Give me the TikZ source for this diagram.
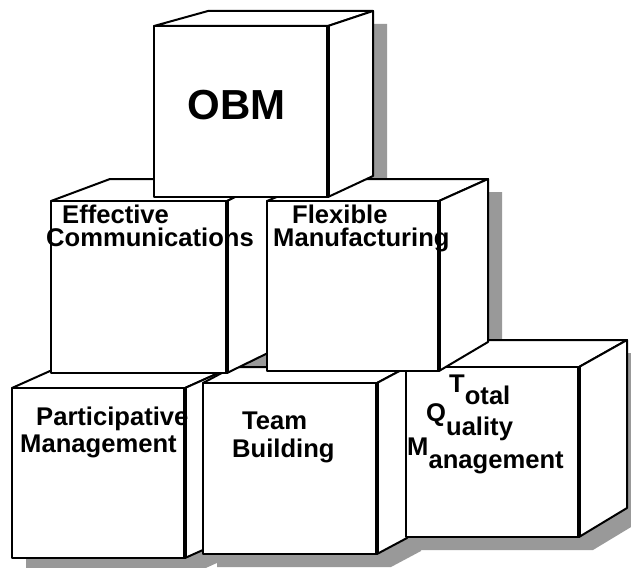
\documentclass[tikz,border=0pt]{standalone}
\usepackage{fontspec}
\setmainfont{Liberation Sans}
\definecolor{shadowgray}{RGB}{153,153,153}
\tikzset{
  cubeline/.style={draw=black, fill=white, line width=2pt, line join=round},
  frontedge/.style={draw=black, line width=3.6pt, line cap=butt},
  shadowfill/.style={fill=shadowgray},
  lbl/.style={inner sep=0pt, anchor=base west, font=\fontsize{25.6}{25.6}\selectfont\bfseries},
}
% #1 L, #2 T, #3 R, #4 B, #5 back-left x, #6 back-top y, #7 back-right x, #8 back-bottom y
\newcommand\mycube[8]{%
  \path[cubeline] (#1,#2) -- (#5,#6) -- (#7,#6) -- (#3,#2) -- cycle;
  \path[cubeline] (#3,#2) -- (#7,#6) -- (#7,#8) -- (#3,#4) -- cycle;
  \path[cubeline] (#1,#2) rectangle (#3,#4);
  \draw[frontedge] (#3,#2) -- (#3,#4);
}
\newcommand\myshadow[8]{%
  \fill[shadowfill, shift={(14,13)}] (#1,#4) -- (#1,#2) -- (#5,#6) -- (#7,#6) -- (#7,#8) -- (#3,#4) -- cycle;
}
\begin{document}
\begin{tikzpicture}[x=1pt, y=-1pt]
\useasboundingbox[fill=white] (0,0) rectangle (631,567);
% shadows
\myshadow{154}{26}{328}{197}{208}{11}{373}{176}
\myshadow{51}{201}{227}{373}{110}{179}{272}{351}
\myshadow{267}{201}{439}{371}{320}{179}{488}{342}
\myshadow{12}{388}{185}{558}{50}{371}{223}{541}
\myshadow{203}{383}{377}{554}{233}{367}{407}{538}
\myshadow{406}{367}{579}{537}{454}{340}{627}{508}
% bottom row
\mycube{12}{388}{185}{558}{50}{371}{223}{541}
\mycube{203}{383}{377}{554}{233}{367}{407}{538}
\mycube{406}{367}{579}{537}{454}{340}{627}{508}
% middle row
\mycube{51}{201}{227}{373}{110}{179}{272}{351}
\mycube{267}{201}{439}{371}{320}{179}{488}{342}
% top
\mycube{154}{26}{328}{197}{208}{11}{373}{176}
% labels
\node[inner sep=0pt, anchor=base, font=\fontsize{42}{42}\selectfont\bfseries] (obm) at (236.5,120) {OBM};
\node[lbl] (eff1) at (62,223) {Effective};
\node[lbl] (eff2) at (46,246) {Communications};
\node[lbl] (flex1) at (292,223) {Flexible};
\node[lbl] (flex2) at (273,246) {Manufacturing};
\node[lbl] (part1) at (36,425) {Participative};
\node[lbl] (part2) at (20,452) {Management};
\node[lbl] (team1) at (242,429) {Team};
\node[lbl] (team2) at (232,457) {Building};
\node[lbl] (tqm1) at (449,392) {T\raisebox{-12pt}{otal}};
\node[lbl] (tqm2) at (426,421) {Q\raisebox{-14pt}{uality}};
\node[lbl] (tqm3) at (407,455) {M\raisebox{-13pt}{anagement}};
\end{tikzpicture}
\end{document}
